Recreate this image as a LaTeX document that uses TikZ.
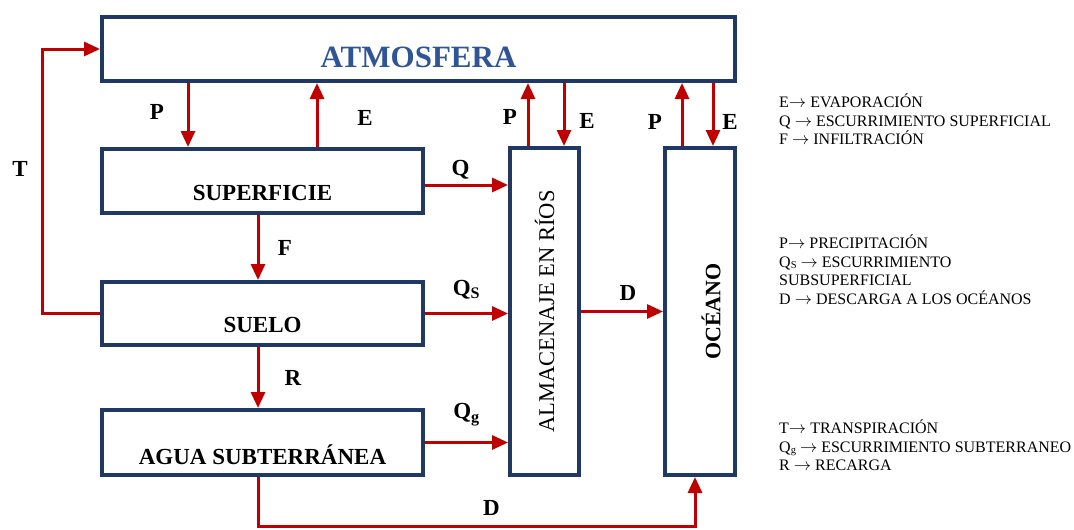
\documentclass[tikz,border=0pt]{standalone}
\usepackage{fontspec}
\setmainfont{Liberation Serif}
\usetikzlibrary{arrows.meta, positioning, calc}
\definecolor{navy}{RGB}{31,56,100}
\definecolor{flowred}{RGB}{192,0,0}
\definecolor{atmblue}{RGB}{47,85,151}
\newcommand{\ra}{\ensuremath{\rightarrow}}
\newcommand{\smallsub}[1]{\raisebox{-1pt}{\fontsize{10.5}{10.5}\selectfont #1}}
\tikzset{
  box/.style={rectangle, draw=navy, line width=4pt, inner sep=0pt},
  flow/.style={-{Triangle[length=16pt, width=14pt]}, draw=flowred, line width=3pt},
  lbl/.style={font=\fontsize{23}{27}\selectfont\bfseries, inner sep=0pt},
  leg/.style={anchor=north west, align=left, inner sep=0pt,
              font=\fontsize{16}{18.5}\selectfont},
}

\begin{document}
\begin{tikzpicture}[x=1pt, y=-1pt]
  \useasboundingbox (0,0) rectangle (1074,530);

  % boxes
  \node[box, minimum width=633pt, minimum height=64pt,
        label={[lbl, font=\fontsize{31}{35}\selectfont\bfseries, text=atmblue, yshift=-8pt]center:ATMOSFERA}]
        (atm) at (418.5,49) {};
  \node[box, minimum width=321pt, minimum height=64pt,
        label={[lbl, yshift=-12pt]center:SUPERFICIE}] (sup) at (262.5,181) {};
  \node[box, minimum width=321pt, minimum height=63pt,
        label={[lbl, yshift=-11pt]center:SUELO}] (sue) at (262.5,313.5) {};
  \node[box, minimum width=321pt, minimum height=65pt,
        label={[lbl, yshift=-12pt]center:AGUA SUBTERRÁNEA}] (agua) at (262.5,442.5) {};
  \node[box, minimum width=69pt, minimum height=327pt,
        label={[font=\fontsize{22.5}{26}\selectfont, rotate=90]center:ALMACENAJE EN RÍOS}]
        (rios) at (544.5,311.5) {};
  \node[box, minimum width=70pt, minimum height=327pt,
        label={[lbl, font=\fontsize{22}{26}\selectfont\bfseries, xshift=11pt, rotate=90]center:OCÉANO}]
        (oce) at (700,311.5) {};

  % columns of the vertical flows
  \coordinate (cP) at (188,0);
  \coordinate (cE) at (317,0);
  \coordinate (cF) at (258,0);
  \coordinate (cRP) at (528,0);
  \coordinate (cRE) at (564,0);
  \coordinate (cOP) at (682,0);
  \coordinate (cOE) at (713,0);
  \coordinate (cT) at (42,0);
  \coordinate (bot) at (695,526);
  \coordinate (q1) at ([yshift=-4pt]sup.east);

  % vertical flows
  \draw[flow] (atm.south -| cP) -- node[lbl, xshift=-31pt, yshift=3pt]{P} (sup.north -| cP);
  \draw[flow] (sup.north -| cE) -- node[lbl, xshift=48pt, yshift=-3pt]{E} (atm.south -| cE);
  \draw[flow] (sup.south -| cF) -- node[lbl, xshift=27pt]{F} (sue.north -| cF);
  \draw[flow] (sue.south -| cF) -- node[lbl, xshift=35pt]{R} (agua.north -| cF);
  \draw[flow] (rios.north -| cRP) -- node[lbl, xshift=-18pt, yshift=-2pt]{P} (atm.south -| cRP);
  \draw[flow] (atm.south -| cRE) -- node[lbl, xshift=23pt, yshift=-6pt]{E} (rios.north -| cRE);
  \draw[flow] (oce.north -| cOP) -- node[lbl, xshift=-27pt, yshift=-7pt]{P} (atm.south -| cOP);
  \draw[flow] (atm.south -| cOE) -- node[lbl, xshift=17pt, yshift=-7pt]{E} (oce.north -| cOE);

  % horizontal flows
  \draw[flow] (q1) -- node[lbl, xshift=-6pt, yshift=15pt]{Q} (q1 -| rios.west);
  \draw[flow] (sue.east) -- node[lbl, yshift=24pt]{Q\textsubscript{S}} (sue.east -| rios.west);
  \draw[flow] (agua.east) -- node[lbl, yshift=28pt]{Q\textsubscript{g}} (agua.east -| rios.west);
  \draw[flow] (rios.east) -- node[lbl, xshift=6pt, yshift=19pt]{D} (rios.east -| oce.west);

  % transpiration and discharge loops
  \draw[flow] (sue.west) -- (sue.west -| cT)
    -- node[lbl, xshift=-22pt, yshift=12pt]{T} (cT |- atm.west) -- (atm.west);
  \draw[flow] (agua.south -| cF) -- (cF |- bot)
    -- node[lbl, xshift=15pt, yshift=18pt]{D} (bot) -- (oce.south -| bot);

  % legend
  \node[leg] (leg1) at (779,94) {E\ra{} EVAPORACIÓN\\Q \ra{} ESCURRIMIENTO SUPERFICIAL\\F \ra{} INFILTRACIÓN};
  \node[leg] (leg2) at (779,235) {P\ra{} PRECIPITACIÓN\\Q\smallsub{S} \ra{} ESCURRIMIENTO\\SUBSUPERFICIAL\\D \ra{} DESCARGA A LOS OCÉANOS};
  \node[leg] (leg3) at (779,420) {T\ra{} TRANSPIRACIÓN\\Q\smallsub{g} \ra{} ESCURRIMIENTO SUBTERRANEO\\R \ra{} RECARGA};
\end{tikzpicture}
\end{document}
